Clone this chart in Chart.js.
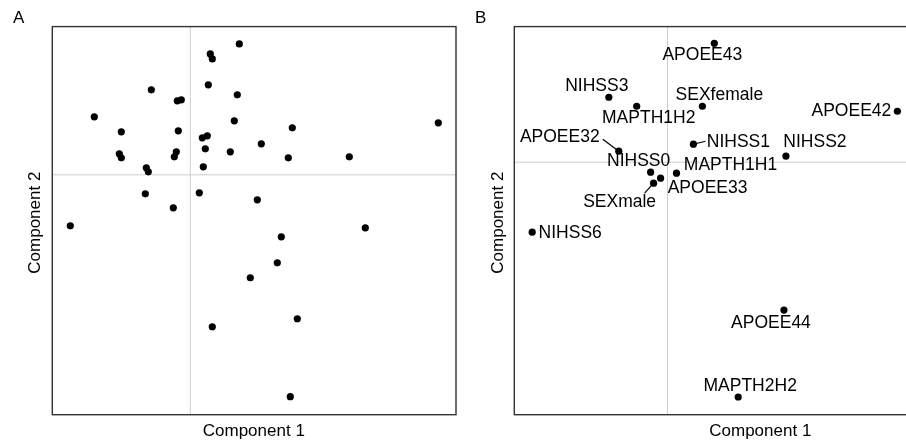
<!DOCTYPE html>
<html>
<head>
<meta charset="utf-8">
<script src="https://cdn.jsdelivr.net/npm/chart.js@4/dist/chart.umd.min.js"></script>
<style>
  html, body { margin:0; padding:0; background:#fff; overflow:hidden; width:906px; height:441px; }
  #wrapA { position:absolute; left:0; top:0; width:460px; height:441px; }
  #wrapB { position:absolute; left:460px; top:0; width:460px; height:441px; }
  .tag { position:absolute; top:8px; font:17px "Liberation Sans", Arial, sans-serif; color:#000; }
</style>
</head>
<body>
<div id="wrapA"><canvas id="chartA" width="460" height="441"></canvas></div>
<div id="wrapB"><canvas id="chartB" width="460" height="441"></canvas></div>
<div class="tag" style="left:13px">A</div>
<div class="tag" style="left:475px">B</div>

<script>
/* ============ DATA ============ */
// panel A: individual scores
const scoreX = [0.49,0.20,0.22,0.18,0.47,-0.39,-0.13,-0.09,-0.96,0.44,1.02,2.48,-0.69,-0.12,0.12,0.17,0.71,0.15,0.40,-0.71,
                -0.69,-0.14,-0.16,0.98,1.59,0.13,-0.44,-0.42,-0.45,0.09,0.67,-0.17,-1.20,1.75,0.91,0.87,0.60,1.07,0.22,1.00];
const scoreY = [1.31,1.21,1.16,0.90,0.80,0.85,0.74,0.75,0.58,0.54,0.47,0.52,0.43,0.44,0.37,0.39,0.31,0.26,0.23,0.21,
                0.17,0.23,0.18,0.17,0.18,0.08,0.07,0.03,-0.19,-0.18,-0.25,-0.33,-0.51,-0.53,-0.62,-0.88,-1.03,-1.44,-1.52,-2.22];

// panel B: category coordinates
const catNames = ["APOEE43","NIHSS3","MAPTH1H2","SEXfemale","APOEE42","APOEE32","NIHSS1","NIHSS2",
                  "NIHSS0","MAPTH1H1","APOEE33","SEXmale","NIHSS6","APOEE44","MAPTH2H2"];
const catX = [0.47,-0.59,-0.31,0.35,2.31,-0.49,0.26,1.19,-0.17,0.09,-0.07,-0.14,-1.36,1.17,0.71];
const catY = [1.19,0.65,0.56,0.56,0.51,0.11,0.18,0.06,-0.10,-0.11,-0.16,-0.21,-0.70,-1.48,-2.35];

// label placement: text centre offset from point, optional leader line end offset
const labelPos = {
  APOEE43:[-12,12], NIHSS3:[-12,-11], MAPTH1H2:[12,12], SEXfemale:[17,-11], APOEE42:[-46,0],
  APOEE32:[-59,-14,[-16,-12]], NIHSS1:[45,-2,[12,-3]], NIHSS2:[29,-14], NIHSS0:[-12,-11], MAPTH1H1:[54,-8],
  APOEE33:[47,10], SEXmale:[-34,19,[-9,10]], NIHSS6:[38,1], APOEE44:[-13,13], MAPTH2H2:[12,-11]
};

const FONT = '"Liberation Sans", Arial, sans-serif';

/* ============ PLUGINS ============ */
const framePlugin = {
  id: 'frame',
  beforeDatasetsDraw(chart){
    const {ctx, chartArea:a, scales} = chart;
    const x0 = scales.x.getPixelForValue(0);
    const y0 = scales.y.getPixelForValue(0);
    ctx.save();
    ctx.strokeStyle = '#cccccc';
    ctx.lineWidth = 1;
    ctx.beginPath();
    ctx.moveTo(x0, a.top); ctx.lineTo(x0, a.bottom);
    ctx.moveTo(a.left, y0); ctx.lineTo(a.right, y0);
    ctx.stroke();
    ctx.strokeStyle = '#333333';
    ctx.lineWidth = 1.4;
    ctx.strokeRect(a.left, a.top, a.right - a.left, a.bottom - a.top);

    ctx.fillStyle = '#000';
    ctx.font = '17px ' + FONT;
    ctx.textAlign = 'center';
    ctx.textBaseline = 'middle';
    ctx.fillText('Component 1', (a.left + chart.options.plugins.frame.midX), 431);
    ctx.translate(chart.options.plugins.frame.titleYx, (a.top + a.bottom) / 2 + 2);
    ctx.rotate(-Math.PI / 2);
    ctx.fillText('Component 2', 0, 0);
    ctx.restore();
  }
};

const labelPlugin = {
  id: 'labels',
  afterDatasetsDraw(chart){
    if (!chart.options.plugins.labels.show) return;
    const {ctx, scales} = chart;
    ctx.save();
    ctx.font = '17.5px ' + FONT;
    ctx.textAlign = 'center';
    ctx.textBaseline = 'middle';
    ctx.fillStyle = '#000';
    ctx.strokeStyle = '#000';
    ctx.lineWidth = 1.2;
    catNames.forEach((n, i) => {
      const px = scales.x.getPixelForValue(catX[i]);
      const py = scales.y.getPixelForValue(catY[i]);
      const [dx, dy, lead] = labelPos[n];
      if (lead) {
        ctx.beginPath();
        ctx.moveTo(px, py);
        ctx.lineTo(px + lead[0], py + lead[1]);
        ctx.stroke();
      }
      ctx.fillText(n, px + dx, py + dy);
    });
    ctx.restore();
  }
};

/* ============ CHARTS ============ */
function panel(id, xs, ys, xr, yr, pad, midX, titleYx, showLabels){
  return new Chart(document.getElementById(id), {
    type: 'scatter',
    data: {
      datasets: [{
        data: xs.map((x, i) => ({x: x, y: ys[i]})),
        backgroundColor: '#000',
        borderWidth: 0,
        pointRadius: 3.6
      }]
    },
    options: {
      responsive: false,
      animation: false,
      layout: { padding: pad },
      plugins: {
        legend: { display: false },
        tooltip: { enabled: false },
        frame: { midX: midX, titleYx: titleYx },
        labels: { show: showLabels }
      },
      scales: {
        x: { type: 'linear', display: false, min: xr[0], max: xr[1] },
        y: { type: 'linear', display: false, min: yr[0], max: yr[1] }
      }
    },
    plugins: [framePlugin, labelPlugin]
  });
}

panel('chartA', scoreX, scoreY, [-1.38, 2.657], [-2.40, 1.483],
      {left: 52.3, top: 26.6, right: 4, bottom: 26.3}, 201.5, 35, false);
panel('chartB', catX, catY, [-1.54, 2.497], [-2.527, 1.357],
      {left: 54.3, top: 26.6, right: 2, bottom: 26.3}, 246, 38, true);
</script>
</body>
</html>
